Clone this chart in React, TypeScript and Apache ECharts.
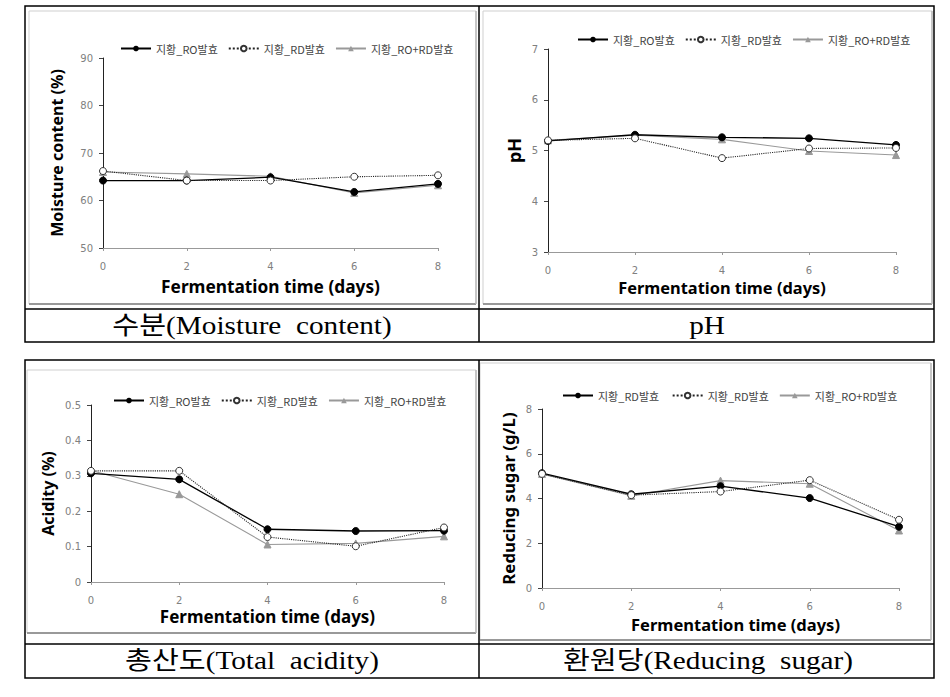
import React, { useEffect, useRef } from "react";
import * as echarts from "echarts";

const days = [0, 2, 4, 6, 8];
const legendNames = ["지황_RO발효", "지황_RD발효", "지황_RO+RD발효"];
const sugarLegendNames = ["지황_RD발효 ", "지황_RD발효", "지황_RO+RD발효"];

const moistureRO = [64.2, 64.2, 64.9, 61.8, 63.5];
const moistureRD = [66.2, 64.2, 64.2, 65.0, 65.3];
const moistureRORD = [66.0, 65.6, 65.1, 61.6, 63.2];

const phRO = [5.19, 5.31, 5.26, 5.24, 5.11];
const phRD = [5.2, 5.24, 4.85, 5.04, 5.05];
const phRORD = [5.2, 5.3, 5.22, 4.99, 4.91];

const acidRO = [0.307, 0.29, 0.149, 0.144, 0.145];
const acidRD = [0.314, 0.314, 0.127, 0.101, 0.154];
const acidRORD = [0.315, 0.248, 0.106, 0.109, 0.129];

const sugarRO = [5.13, 4.19, 4.55, 4.02, 2.74];
const sugarRD = [5.1, 4.15, 4.31, 4.82, 3.05];
const sugarRORD = [5.1, 4.12, 4.8, 4.66, 2.57];

const xTitle = "Fermentation time (days)";
const yTitles = ["Moisture content (%)", "pH", "Acidity (%)", "Reducing sugar (g/L)"];
const captions = ["수분(Moisture  content)", "pH", "총산도(Total  acidity)", "환원당(Reducing  sugar)"];

const pair = (ys: number[]) => ys.map((y, i) => [days[i], y]);

export default function App() {
  const ref = useRef<HTMLDivElement>(null);
  useEffect(() => {
    if (!ref.current) return;
    const chart = echarts.init(ref.current, null, { renderer: "svg" });

    const grids = [
      { left: 103, top: 58, width: 335, height: 190 },
      { left: 548, top: 49, width: 348, height: 203 },
      { left: 91, top: 405, width: 353, height: 177 },
      { left: 542, top: 409, width: 357, height: 179 },
    ];
    const yRanges = [
      { min: 50, max: 90, interval: 10 },
      { min: 3, max: 7, interval: 1 },
      { min: 0, max: 0.5, interval: 0.1 },
      { min: 0, max: 8, interval: 2 },
    ];
    const yGaps = [38, 25, 35, 25];
    const xGaps = [30, 27, 26, 28];
    const xTitleSize = [17.3, 16.4, 17, 16.5];
    const yTitleSize = [16, 18, 16, 16.8];
    const legendPos = [
      { left: 115, top: 38 },
      { left: 572, top: 29 },
      { left: 108, top: 390 },
      { left: 557, top: 385 },
    ];
    const dataSets = [
      [moistureRO, moistureRD, moistureRORD],
      [phRO, phRD, phRORD],
      [acidRO, acidRD, acidRORD],
      [sugarRO, sugarRD, sugarRORD],
    ];

    const tickLabel = { color: "#808080", fontSize: 10, fontFamily: "DejaVu Sans" };

    const xAxis = grids.map((_, i) => ({
      type: "value",
      gridIndex: i,
      min: 0,
      max: 8,
      interval: 2,
      name: xTitle,
      nameLocation: "middle",
      nameGap: xGaps[i],
      nameTextStyle: {
        fontSize: xTitleSize[i],
        fontWeight: "bold",
        color: "#000",
        fontFamily: "Noto Sans",
        padding: i === 3 ? [0, 0, 0, 30] : 0,
      },
      axisLine: { show: true, lineStyle: { color: "#999", width: 1 } },
      axisTick: { show: true, inside: false, length: 3, lineStyle: { color: "#999" } },
      axisLabel: { ...tickLabel, margin: 13 },
      splitLine: { show: false },
    }));

    const yAxis = grids.map((_, i) => ({
      type: "value",
      gridIndex: i,
      ...yRanges[i],
      name: yTitles[i],
      nameLocation: "middle",
      nameGap: yGaps[i],
      nameTextStyle: {
        fontSize: yTitleSize[i],
        fontWeight: "bold",
        color: "#000",
        fontFamily: "Noto Sans",
      },
      axisLine: { show: true, lineStyle: { color: "#222", width: 1 } },
      axisTick: { show: true, inside: false, length: 4, lineStyle: { color: "#444" } },
      axisLabel: { ...tickLabel, margin: 10 },
      splitLine: { show: false },
    }));

    const series: any[] = [];
    dataSets.forEach((set, i) => {
      const names = i === 3 ? sugarLegendNames : legendNames;
      series.push({
        type: "line",
        name: names[0],
        xAxisIndex: i,
        yAxisIndex: i,
        data: pair(set[0]),
        symbol: "circle",
        symbolSize: 7,
        itemStyle: { color: "#000", borderColor: "#000" },
        lineStyle: { color: "#000", width: 1.3, type: "solid" },
        z: 3,
      });
      series.push({
        type: "line",
        name: names[1],
        xAxisIndex: i,
        yAxisIndex: i,
        data: pair(set[1]),
        symbol: "circle",
        symbolSize: 7,
        itemStyle: { color: "#fff", borderColor: "#333", borderWidth: 1 },
        lineStyle: { color: "#222", width: 1.1, type: "dotted" },
        z: 4,
      });
      series.push({
        type: "line",
        name: names[2],
        xAxisIndex: i,
        yAxisIndex: i,
        data: pair(set[2]),
        symbol: "triangle",
        symbolSize: 7,
        itemStyle: { color: "#999", borderColor: "#999" },
        lineStyle: { color: "#999", width: 1.1, type: "solid" },
        z: 2,
      });
    });

    const legend = grids.map((_, i) => ({
      data: i === 3 ? sugarLegendNames : legendNames,
      left: legendPos[i].left,
      top: legendPos[i].top,
      orient: "horizontal",
      itemWidth: 30,
      itemHeight: 7,
      itemGap: 10,
      selectedMode: false,
      textStyle: { fontSize: 11, color: "#444", fontFamily: "Noto Sans CJK KR" },
    }));

    const lineEl = (x1: number, y1: number, x2: number, y2: number, stroke = "#000", lineWidth = 1.5) => ({
      type: "line",
      shape: { x1, y1, x2, y2 },
      style: { stroke, lineWidth },
      silent: true,
    });

    const frame = (x1: number, y1: number, x2: number, y2: number) => [
      {
        type: "rect",
        shape: { x: x1, y: y1, width: x2 - x1, height: y2 - y1 },
        style: { fill: "none", stroke: "#cfcfcf", lineWidth: 1 },
        silent: true,
      },
      lineEl(x1, y2, x2, y2, "#999", 2),
      lineEl(x2, y1, x2, y2, "#bbb", 1.5),
    ];

    const captionStyle = (text: string, x: number, y: number) => ({
      type: "text",
      x,
      y,
      scaleX: 1.17,
      style: {
        text,
        fill: "#000",
        fontSize: 25,
        fontFamily: "Liberation Serif, Noto Sans CJK KR",
        align: "center",
        verticalAlign: "middle",
      },
      silent: true,
    });

    const graphic: any[] = [
      ...frame(29, 11, 476, 304),
      ...frame(483, 11, 932, 304),
      ...frame(27, 370, 476, 633),
      ...frame(480, 363, 931, 640),
      {
        type: "rect",
        shape: { x: 25, y: 6, width: 909, height: 336 },
        style: { fill: "none", stroke: "#000", lineWidth: 1.5 },
        silent: true,
      },
      lineEl(25, 309, 934, 309),
      lineEl(479, 6, 479, 342),
      {
        type: "rect",
        shape: { x: 25, y: 360, width: 909, height: 318 },
        style: { fill: "none", stroke: "#000", lineWidth: 1.5 },
        silent: true,
      },
      lineEl(25, 644, 934, 644),
      lineEl(479, 360, 479, 678),
      captionStyle(captions[0], 252, 326),
      captionStyle(captions[1], 707, 326),
      captionStyle(captions[2], 252, 661),
      captionStyle(captions[3], 708, 661),
    ];

    chart.setOption({
      animation: false,
      backgroundColor: "#fff",
      grid: grids,
      xAxis,
      yAxis,
      legend,
      series,
      graphic,
    });
    return () => chart.dispose();
  }, []);
  return (
    <div
      ref={ref}
      style={{ position: "absolute", left: 0, top: 0, width: 950, height: 697 }}
    />
  );
}
